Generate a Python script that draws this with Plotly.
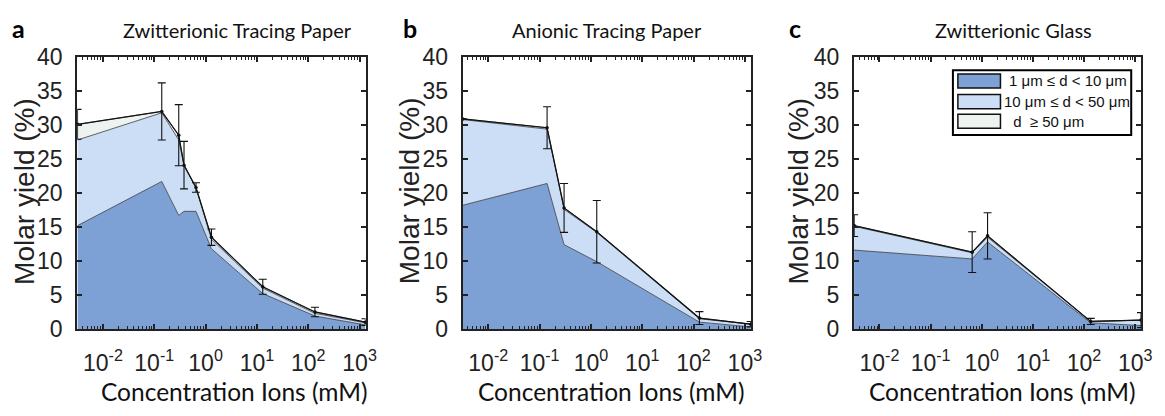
import plotly.graph_objects as go

# ---- data: molar yield (%) by droplet-size class vs ion concentration (mM) ----
conc_a = [0.0032, 0.14, 0.30, 0.38, 0.65, 1.3, 13, 135, 1300]
small_a = [15.2, 21.7, 16.7, 17.3, 17.3, 11.8, 5.2, 1.9, 0.6]      # 1-10 um
medium_a = [12.6, 10.1, 11.1, 6.7, 3.5, 1.4, 0.8, 0.4, 0.3]       # 10-50 um
large_a = [2.3, 0.2, 0.7, 0.1, 0.0, 0.3, 0.2, 0.2, 0.1]           # >= 50 um
total_a = [30.1, 32.0, 28.5, 24.1, 20.8, 13.5, 6.2, 2.5, 1.0]
err_a = [2.2, 4.2, 4.5, 3.5, 0.7, 1.2, 1.1, 0.7, 0.5]

conc_b = [0.0032, 0.14, 0.30, 1.3, 130, 1300]
small_b = [18.2, 21.4, 12.4, 9.9, 1.0, 0.3]
medium_b = [12.6, 8.0, 5.2, 4.3, 0.5, 0.4]
large_b = [0.1, 0.2, 0.2, 0.1, 0.1, 0.0]
total_b = [30.9, 29.6, 17.8, 14.3, 1.6, 0.7]
err_b = [0.0, 3.1, 3.6, 4.6, 0.95, 0.4]

conc_c = [0.0032, 0.65, 1.3, 135, 1300]
small_c = [11.6, 10.3, 12.8, 0.9, 0.5]
medium_c = [3.5, 0.9, 0.7, 0.2, 0.8]
large_c = [0.1, 0.1, 0.2, 0.0, 0.0]
total_c = [15.2, 11.3, 13.7, 1.1, 1.3]
err_c = [1.6, 3.0, 3.4, 0.45, 1.1]

titles = ["Zwitterionic Tracing Paper", "Anionic Tracing Paper", "Zwitterionic Glass"]
letters = ["a", "b", "c"]
legend_labels = ["1 \u03bcm \u2264 d < 10 \u03bcm", "10 \u03bcm \u2264 d < 50 \u03bcm", " d  \u2265 50 \u03bcm"]
x_tick_vals = [0.01, 0.1, 1, 10, 100, 1000]
x_tick_text = ["10<sup>-2</sup>", "10<sup>-1</sup>", "10<sup>0</sup>",
               "10<sup>1</sup>", "10<sup>2</sup>", "10<sup>3</sup>"]
y_ticks = [0, 5, 10, 15, 20, 25, 30, 35, 40]

# ---- styling ----
W, H = 1165, 416
fills = ["#7da0d5", "#cbdef5", "#eef3f0"]
edge = "#3a3a3a"
ink = "#222222"
arial = "Liberation Sans, Arial, sans-serif"
sans = "Lato, Open Sans, sans-serif"

# plot-area boxes in pixels: (left, right)
boxes = [(78, 369), (467, 758), (862, 1152)]
top_px, bot_px = 47, 337

panels = [
    (conc_a, small_a, medium_a, large_a, total_a, err_a),
    (conc_b, small_b, medium_b, large_b, total_b, err_b),
    (conc_c, small_c, medium_c, large_c, total_c, err_c),
]

fig = go.Figure()
minor_vals = [m * 10 ** k for k in range(-3, 4) for m in range(2, 10)]

for i, (conc, s, m, l, tot, err) in enumerate(panels):
    xa = "x" if i == 0 else f"x{i+1}"
    ya = "y" if i == 0 else f"y{i+1}"
    for j, layer in enumerate([s, m, l]):
        fig.add_trace(go.Scatter(
            x=conc, y=layer, xaxis=xa, yaxis=ya, mode="lines",
            stackgroup=f"g{i}", fillcolor=fills[j],
            line=dict(color=edge, width=0.8), showlegend=False,
            hoverinfo="skip"))
    fig.add_trace(go.Scatter(
        x=conc, y=tot, xaxis=xa, yaxis=ya, mode="lines+markers",
        line=dict(color="#111111", width=1.2),
        marker=dict(color="#111111", size=3.5),
        error_y=dict(type="data", array=err, visible=True,
                     color="#111111", thickness=1.1, width=4),
        cliponaxis=False, showlegend=False))

    left, right = boxes[i]
    axis_common = dict(showline=True, linecolor=ink, linewidth=2, mirror="ticks",
                       ticks="inside", tickcolor=ink, tickwidth=1.5, ticklen=5,
                       showgrid=False, zeroline=False,
                       tickfont=dict(family=arial, size=23, color=ink))
    xkey = "xaxis" if i == 0 else f"xaxis{i+1}"
    ykey = "yaxis" if i == 0 else f"yaxis{i+1}"
    fig.update_layout({
        xkey: dict(axis_common, type="log", range=[-2.5, 3.116],
                   domain=[left / W, right / W], anchor=ya,
                   tickmode="array", tickvals=x_tick_vals, ticktext=x_tick_text,
                   ticklabelstandoff=12,
                   minor=dict(ticks="inside", ticklen=3, tickwidth=1,
                              tickcolor=ink, tickvals=minor_vals)),
        ykey: dict(axis_common, range=[0, 40], tickvals=y_ticks,
                   domain=[1 - bot_px / H, 1 - top_px / H], anchor=xa,
                   ticklabelstandoff=8),
    })

annotations = []
letter_pos = [(19, 16), (414, 16), (803, 16)]
title_pos = [(240, 18), (613, 18), (1023, 18)]
ylab_x = [24, 413, 806]
xlab_x = [237, 617, 1012]
for i in range(3):
    annotations.append(dict(text=f"<b>{letters[i]}</b>", x=letter_pos[i][0] / W,
                            y=1 - letter_pos[i][1] / H, xref="paper", yref="paper",
                            showarrow=False, xanchor="center", yanchor="middle",
                            font=dict(family=sans, size=25, color="#000")))
    annotations.append(dict(text=titles[i], x=title_pos[i][0] / W,
                            y=1 - title_pos[i][1] / H, xref="paper", yref="paper",
                            showarrow=False, xanchor="center", yanchor="middle",
                            font=dict(family=sans, size=20, color="#111")))
    annotations.append(dict(text="Molar yield (%)", x=ylab_x[i] / W,
                            y=1 - 190 / H, xref="paper", yref="paper",
                            textangle=-90, showarrow=False,
                            xanchor="center", yanchor="middle",
                            font=dict(family=arial, size=28, color=ink)))
    annotations.append(dict(text="Concentration Ions (mM)", x=xlab_x[i] / W,
                            y=1 - 404 / H, xref="paper", yref="paper",
                            showarrow=False, xanchor="center", yanchor="middle",
                            font=dict(family=sans, size=24.5, color="#111")))

# legend box drawn inside panel c
shapes = [dict(type="rect", xref="paper", yref="paper",
               x0=962 / W, x1=1142 / W, y0=1 - 130 / H, y1=1 - 61 / H,
               line=dict(color="#000", width=2), fillcolor="white", layer="above")]
rows = [(65, 80), (87, 102), (108, 123)]
text_x = [1017, 1012, 1017]
for j, (r0, r1) in enumerate(rows):
    shapes.append(dict(type="rect", xref="paper", yref="paper",
                       x0=967 / W, x1=1010 / W, y0=1 - r1 / H, y1=1 - r0 / H,
                       line=dict(color="#111", width=1.5), fillcolor=fills[j],
                       layer="above"))
    annotations.append(dict(text=legend_labels[j], x=text_x[j] / W,
                            y=1 - (r0 + r1) / 2 / H, xref="paper", yref="paper",
                            showarrow=False, xanchor="left", yanchor="middle",
                            font=dict(family=arial, size=15, color="#111")))

fig.update_layout(width=W, height=H, margin=dict(l=0, r=0, t=0, b=0),
                  paper_bgcolor="white", plot_bgcolor="white",
                  annotations=annotations, shapes=shapes, showlegend=False)

fig.write_html("out.html")
